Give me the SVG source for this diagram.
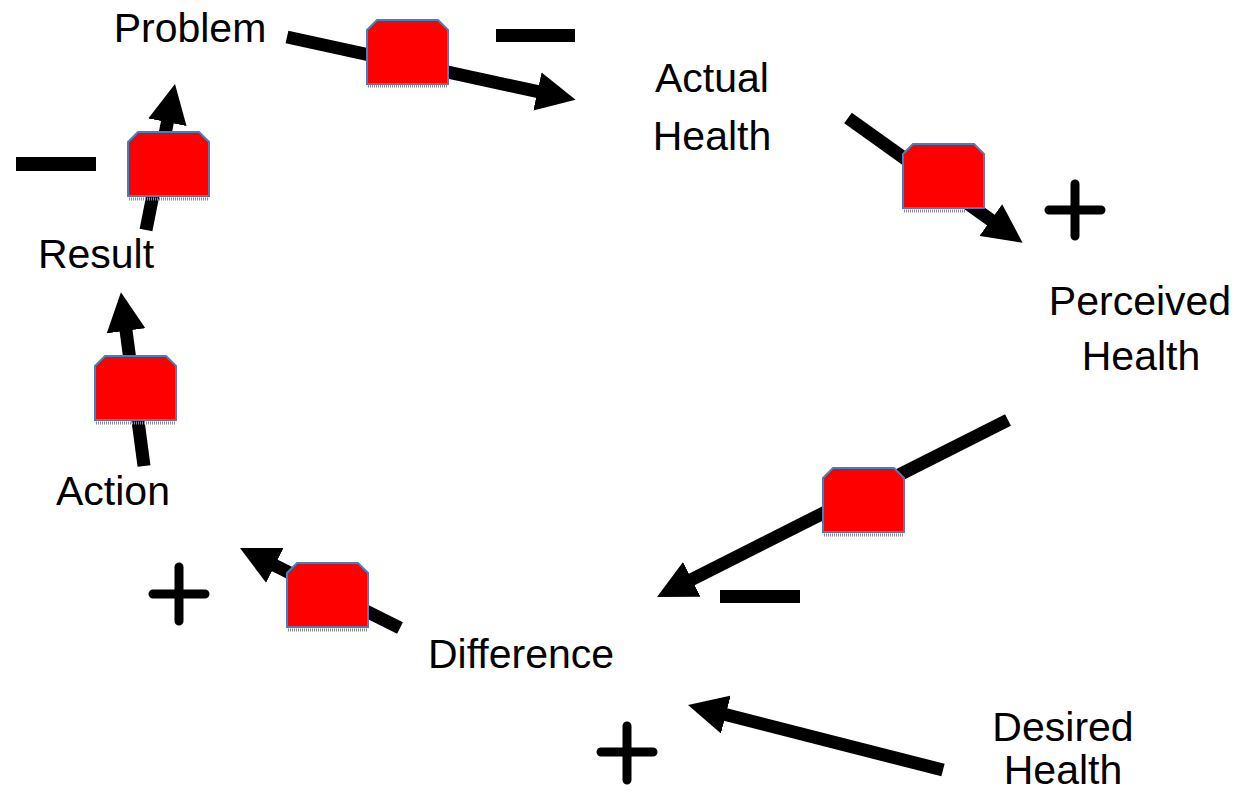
<svg xmlns="http://www.w3.org/2000/svg" width="1241" height="792" viewBox="0 0 1241 792">
<style>
.lbl{font-family:"Liberation Sans",Arial,sans-serif;font-size:41px;fill:#000;text-anchor:middle}
.link{stroke:#000;stroke-width:13;fill:none;marker-end:url(#ah)}
.delay{fill:#ff0000;stroke:#4a7ebb;stroke-width:2}
.dots{stroke:#8a8a8a;stroke-width:3;stroke-dasharray:1 1}
.minus{fill:#000}
.plus{stroke:#000;stroke-width:9;stroke-linecap:round;fill:none}
</style>
<defs>
<marker id="ah" viewBox="0 0 10 10" refX="5" refY="5" markerWidth="3" markerHeight="3" orient="auto" markerUnits="strokeWidth">
<path d="M0,0 L10,5 L0,10 Z" fill="#000"/>
</marker>
<path id="dl" d="M0,10 L10,0 L71,0 L81,10 L81,64 L0,64 Z"/>
</defs>
<rect width="1241" height="792" fill="#fff"/>
<g id="connectors">
<line class="link" x1="287" y1="37" x2="556.5" y2="95.7"/>
<line class="link" x1="848" y1="118" x2="1006.7" y2="231.4"/>
<line class="link" x1="144" y1="466" x2="123.5" y2="311.5"/>
<line class="link" x1="146" y1="230" x2="171.2" y2="103.1"/>
<line class="link" x1="1008" y1="420" x2="674.4" y2="588.2"/>
<line class="link" x1="400" y1="628" x2="257.4" y2="556.7"/>
<line class="link" x1="943" y1="770" x2="706.9" y2="709.8"/>
<g id="delays">
<use href="#dl" class="delay" x="367" y="20"/><line class="dots" x1="368" y1="86" x2="447" y2="86"/>
<use href="#dl" class="delay" x="903" y="144"/><line class="dots" x1="904" y1="211" x2="966" y2="211"/>
<use href="#dl" class="delay" x="95" y="356"/><line class="dots" x1="96" y1="423" x2="176" y2="423"/>
<use href="#dl" class="delay" x="128" y="132"/><line class="dots" x1="129" y1="199" x2="208" y2="199"/>
<use href="#dl" class="delay" x="823" y="468"/><line class="dots" x1="824" y1="535" x2="904" y2="535"/>
<use href="#dl" class="delay" x="287" y="563"/><line class="dots" x1="288" y1="630" x2="368" y2="630"/>
</g>
<g id="polarity">
<rect class="minus" x="496" y="29" width="79" height="13"/>
<rect class="minus" x="16" y="157" width="80" height="14"/>
<rect class="minus" x="720" y="590" width="80" height="13"/>
<path class="plus" d="M1049,210 H1101 M1075,184 V236"/>
<path class="plus" d="M601,752 H653 M627,726 V780"/>
<path class="plus" d="M153,594 H205 M179,567 V621"/>
</g>
</g>
<g id="node-problem"><text class="lbl" x="190" y="42">Problem</text></g>
<g id="node-actual-health"><text class="lbl" x="712" y="92">Actual</text><text class="lbl" x="712" y="150">Health</text></g>
<g id="node-perceived-health"><text class="lbl" x="1140" y="315">Perceived</text><text class="lbl" x="1141" y="370">Health</text></g>
<g id="node-result"><text class="lbl" x="96" y="268">Result</text></g>
<g id="node-action"><text class="lbl" x="113" y="505">Action</text></g>
<g id="node-difference"><text class="lbl" x="521" y="668">Difference</text></g>
<g id="node-desired-health"><text class="lbl" x="1063" y="741">Desired</text><text class="lbl" x="1063" y="784">Health</text></g>
</svg>
